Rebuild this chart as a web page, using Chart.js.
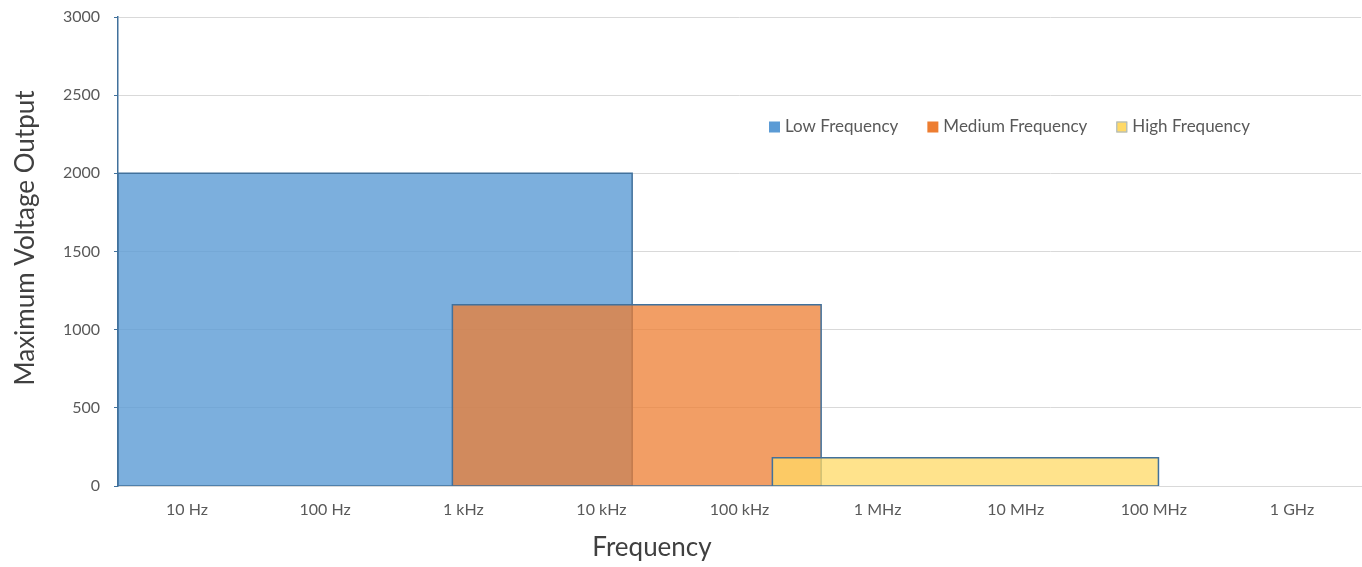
<!DOCTYPE html>
<html>
<head>
<meta charset="utf-8">
<script src="https://cdn.jsdelivr.net/npm/chart.js@4/dist/chart.umd.min.js"></script>
<style>
  body { margin: 0; background: #fff; }
  #wrap { width: 1362px; height: 567px; position: relative; }
</style>
</head>
<body>
<div id="wrap"><canvas id="freqChart"></canvas></div>
<script>
// frequency bands (Hz) and max voltage
const bandNames = ['Low Frequency', 'Medium Frequency', 'High Frequency'];
const bandStart = [3.162, 834, 173000];
const bandEnd = [16700, 390000, 108000000];
const bandVoltage = [2000, 1160, 180];

const tickFreqs = [10, 100, 1e3, 1e4, 1e5, 1e6, 1e7, 1e8, 1e9];
const tickLabels = ['10 Hz', '100 Hz', '1 kHz', '10 kHz', '100 kHz', '1 MHz', '10 MHz', '100 MHz', '1 GHz'];

const fills = ['rgba(91,155,213,0.8)', 'rgba(237,125,49,0.75)', 'rgba(255,217,102,0.75)'];
const swatches = ['#5B9BD5', '#ED7D31', '#FFD966'];
const FONT = 'Lato, "Open Sans", sans-serif';

function rectPoints(i) {
  return [
    { x: bandStart[i], y: 0 },
    { x: bandStart[i], y: bandVoltage[i] },
    { x: bandEnd[i], y: bandVoltage[i] },
    { x: bandEnd[i], y: 0 },
    { x: bandStart[i], y: 0 }
  ];
}

const datasets = bandNames.map((name, i) => ({
  label: name,
  data: rectPoints(i),
  backgroundColor: fills[i],
  borderColor: '#41719C',
  borderWidth: 1.5,
  pointRadius: 0,
  tension: 0,
  fill: 'shape',
  order: 3 - i
}));

// axis titles + legend drawn inside the plot like the original
const extras = {
  id: 'extras',
  afterDraw(chart) {
    const ctx = chart.ctx;
    ctx.save();
    ctx.fillStyle = '#404040';
    ctx.font = '26px ' + FONT;
    ctx.textAlign = 'center';
    ctx.textBaseline = 'middle';
    ctx.fillText('Frequency', 652, 548);
    ctx.translate(26, 238);
    ctx.rotate(-Math.PI / 2);
    ctx.fillText('Maximum Voltage Output', 0, 0);
    ctx.restore();

    ctx.save();
    ctx.font = '17px ' + FONT;
    ctx.textAlign = 'left';
    ctx.textBaseline = 'middle';
    let x = 769;
    const y = 127;
    bandNames.forEach((name, i) => {
      ctx.fillStyle = swatches[i];
      ctx.fillRect(x, y - 5.5, 11, 11);
      if (i === 2) {
        ctx.strokeStyle = '#9DB5D6';
        ctx.lineWidth = 1;
        ctx.strokeRect(x + 0.5, y - 5, 10, 10);
      }
      ctx.fillStyle = '#595959';
      ctx.fillText(name, x + 16, y);
      x += 16 + ctx.measureText(name).width + 29;
    });
    ctx.restore();
  }
};

new Chart(document.getElementById('freqChart'), {
  type: 'line',
  data: { datasets: datasets },
  plugins: [extras],
  options: {
    responsive: true,
    maintainAspectRatio: false,
    animation: false,
    layout: { padding: { top: 17, right: 1, left: 0, bottom: 0 } },
    plugins: {
      legend: { display: false },
      tooltip: { enabled: false }
    },
    scales: {
      x: {
        type: 'logarithmic',
        min: Math.pow(10, 0.5),
        max: Math.pow(10, 9.5),
        afterBuildTicks(scale) {
          scale.ticks = tickFreqs.map(v => ({ value: v }));
        },
        afterFit(scale) {
          scale.height = 81;
          scale.paddingLeft = 0;
          scale.paddingRight = 0;
        },
        ticks: {
          autoSkip: false,
          maxRotation: 0,
          padding: 14,
          color: '#595959',
          font: { family: FONT, size: 16 },
          callback: (v) => tickLabels[tickFreqs.indexOf(v)] || ''
        },
        grid: { display: false, drawTicks: false },
        border: { display: true, color: '#D9D9D9', width: 1 }
      },
      y: {
        min: 0,
        max: 3000,
        afterFit(scale) {
          scale.width = 118;
          scale.paddingTop = 0;
          scale.paddingBottom = 0;
        },
        ticks: {
          stepSize: 500,
          padding: 14,
          color: '#595959',
          font: { family: FONT, size: 16 },
          callback: (v) => String(v)
        },
        grid: { color: '#D9D9D9', tickLength: 4, tickColor: '#41719C' },
        border: { display: true, color: '#41719C', width: 1.5 }
      }
    }
  }
});
</script>
</body>
</html>
